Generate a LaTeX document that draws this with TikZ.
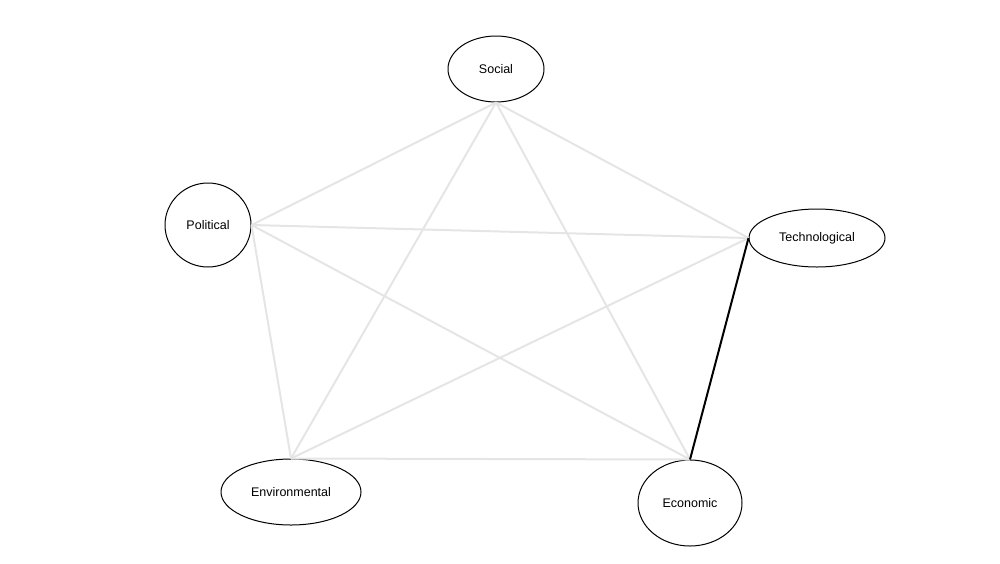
\documentclass[tikz,border=0pt]{standalone}
\usepackage{fontspec}
\setmainfont{Liberation Sans}
\usetikzlibrary{shapes.geometric}
\begin{document}
\begin{tikzpicture}[x=1pt,y=-1pt,
  nd/.style={ellipse,draw,line width=1pt,inner sep=0pt,font=\fontsize{12.5}{14}\selectfont},
  link/.style={draw=black!10,line width=2pt},
  strong/.style={draw=black,line width=2pt}]
\useasboundingbox (0,0) rectangle (1000,563);
\node[nd,minimum width=96pt,minimum height=66pt] (soc) at (496,69) {Social};
\node[nd,minimum width=86pt,minimum height=84pt] (pol) at (208,225) {Political};
\node[nd,minimum width=136pt,minimum height=58pt] (tec) at (817,238) {Technological};
\node[nd,minimum width=140pt,minimum height=66pt] (env) at (291,492) {Environmental};
\node[nd,minimum width=104pt,minimum height=86pt] (eco) at (690,503) {Economic};
\draw[link] (soc.south) -- (pol.east);
\draw[link] (soc.south) -- (tec.west);
\draw[link] (soc.south) -- (env.north);
\draw[link] (soc.south) -- (eco.north);
\draw[link] (pol.east) -- (tec.west);
\draw[link] (pol.east) -- (env.north);
\draw[link] (pol.east) -- (eco.north);
\draw[link] (tec.west) -- (env.north);
\draw[link] (env.north) -- (eco.north);
\draw[strong] (tec.west) -- (eco.north);
\end{tikzpicture}
\end{document}
